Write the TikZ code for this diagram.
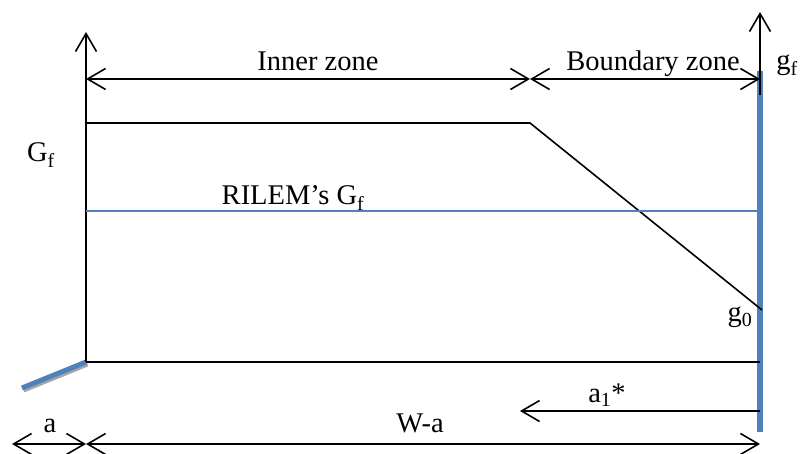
\documentclass[tikz,border=0pt]{standalone}
\usepackage{fontspec}
\setmainfont{Liberation Serif}
\usetikzlibrary{arrows.meta}
\definecolor{plotblue}{HTML}{4F81BD}
\begin{document}
\begin{tikzpicture}[x=1pt,y=-1pt,
  barb/.tip={Straight Barb[length=18pt,width=21pt]},
  axis/.style={line width=1.6pt,-barb},
  span/.style={line width=1.6pt,barb-barb},
  lefthead/.style={line width=1.6pt,barb-},
  curve/.style={line width=1.6pt},
  ligament/.style={plotblue,line width=6pt},
  rilem/.style={plotblue,line width=1.3pt},
  lbl/.style={font=\fontsize{28.5}{30}\selectfont,inner sep=0pt,anchor=base},
  ]
\useasboundingbox (0,0) rectangle (803,454);

% key points
\coordinate (O)    at (86,362);
\coordinate (T)    at (86,32);
\coordinate (IZL)  at (86,79);
\coordinate (IZR)  at (530,79);
\coordinate (BZR)  at (760,79);
\coordinate (P1)   at (86,123);
\coordinate (P2)   at (530,123);
\coordinate (P3)   at (762,310);
\coordinate (R1)   at (86,211);
\coordinate (R2)   at (760,211);
\coordinate (B2)   at (760,362);
\coordinate (GT)   at (760,12);
\coordinate (GB)   at (760,95);
\coordinate (LT)   at (760,71);
\coordinate (LB)   at (760,432);
\coordinate (CK)   at (22,388);
\coordinate (A1R)  at (760,411);
\coordinate (A1L)  at (520,411);
\coordinate (AL)   at (12,444);
\coordinate (AM)   at (86,444);
\coordinate (AR)   at (760,444);

% ligament (blue, thick) and initial notch with its soft shadow
\draw[ligament] (LT) -- (LB);
\draw[black!35,line width=5pt] ([shift={(1.5,2)}]O) -- ([shift={(1.5,2)}]CK);
\draw[plotblue,line width=5pt] (O) -- (CK);

% axes
\draw[axis] (O) -- (T);
\draw[axis] (GB) -- (GT);

% zone spans
\draw[span] (IZL) -- (IZR);
\draw[span] (IZR) -- (BZR);

% fracture energy distribution
\draw[curve] (P1) -- (P2) -- (P3);
\draw[rilem] (R1) -- (R2);
\draw[curve] (O) -- (B2);

% lengths
\draw[lefthead] (A1L) -- (A1R);
\draw[span] (AL) -- (AM);
\draw[span] (AM) -- (AR);

% labels
\node[lbl] (tInner) at (318,71)  {Inner zone};
\node[lbl] (tBound) at (653,71)  {Boundary zone};
\node[lbl] (tgf)    at (787,70)  {g\textsubscript{f}};
\node[lbl] (tGf)    at (41,162)  {G\textsubscript{f}};
\node[lbl] (tRil)   at (293,205) {RILEM’s G\textsubscript{f}};
\node[lbl] (tg0)    at (740,322) {g\textsubscript{0}};
\node[lbl] (ta1)    at (607,402) {a\textsubscript{1}*};
\node[lbl] (ta)     at (50,432)  {a};
\node[lbl] (tWa)    at (420,432) {W-a};
\end{tikzpicture}
\end{document}
